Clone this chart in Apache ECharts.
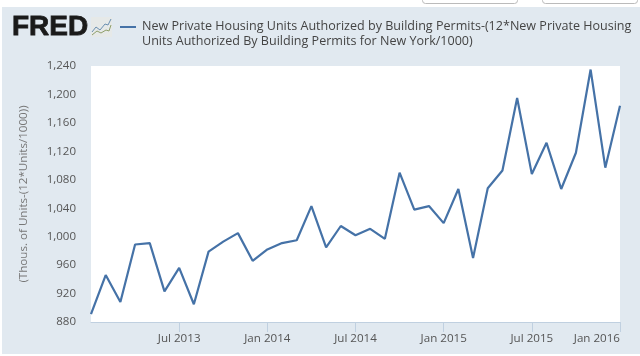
<!DOCTYPE html>
<html>
<head>
<meta charset="utf-8">
<style>
  html, body { margin: 0; padding: 0; background: #fff; }
  #chart { width: 640px; height: 356px; }
</style>
<script src="https://cdn.jsdelivr.net/npm/echarts@6/dist/echarts.min.js"></script>
</head>
<body>
<div id="chart"></div>
<script>
const seriesName = 'New Private Housing Units Authorized by Building Permits-(12*New Private Housing\nUnits Authorized By Building Permits for New York/1000)';
const yAxisName = '(Thous. of Units-(12*Units/1000))';

const months = [
  'Jan 2013', 'Feb 2013', 'Mar 2013', 'Apr 2013', 'May 2013', 'Jun 2013', 'Jul 2013', 'Aug 2013', 'Sep 2013', 'Oct 2013', 'Nov 2013', 'Dec 2013',
  'Jan 2014', 'Feb 2014', 'Mar 2014', 'Apr 2014', 'May 2014', 'Jun 2014', 'Jul 2014', 'Aug 2014', 'Sep 2014', 'Oct 2014', 'Nov 2014', 'Dec 2014',
  'Jan 2015', 'Feb 2015', 'Mar 2015', 'Apr 2015', 'May 2015', 'Jun 2015', 'Jul 2015', 'Aug 2015', 'Sep 2015', 'Oct 2015', 'Nov 2015', 'Dec 2015',
  'Jan 2016'
];
const permits = [
  891, 946, 908, 989, 991, 923, 956, 905, 979, 993, 1005, 966,
  982, 991, 995, 1043, 985, 1015, 1002, 1011, 997, 1090, 1038, 1043,
  1019, 1067, 970, 1068, 1093, 1195, 1088, 1132, 1067, 1118, 1235, 1097,
  1184
];
const tickMonths = ['Jul 2013', 'Jan 2014', 'Jul 2014', 'Jan 2015', 'Jul 2015', 'Jan 2016'];

const fontFamily = '"Open Sans", sans-serif';
const chart = echarts.init(document.getElementById('chart'), null, { renderer: 'canvas' });

chart.setOption({
  animation: false,
  backgroundColor: '#fff',
  textStyle: { fontFamily },
  grid: { left: 91, right: 20, top: 66, bottom: 34, backgroundColor: '#fff', show: true, borderWidth: 0, z: 1 },
  legend: {
    left: 120,
    top: 19,
    padding: 0,
    itemWidth: 16,
    itemHeight: 16,
    itemGap: 0,
    // legend line sits beside the first text line, not centred on both
    icon: 'path://M0 0H16V2H0ZM0 16L0 16Z',
    selectedMode: false,
    textStyle: { fontSize: 12.55, color: '#444', lineHeight: 15, fontFamily, padding: [0, 0, 0, 1] }
  },
  xAxis: {
    type: 'category',
    data: months,
    boundaryGap: false,
    axisLine: { lineStyle: { color: '#c0d0e0', width: 1 } },
    axisTick: {
      length: 10,
      lineStyle: { color: '#c0d0e0' },
      interval: (i, v) => tickMonths.includes(v)
    },
    axisLabel: {
      interval: (i, v) => tickMonths.includes(v),
      color: '#555',
      fontSize: 11.6,
      margin: 11,
      hideOverlap: false,
      formatter: v => v,
      alignMaxLabel: 'right'
    },
    splitLine: { show: false }
  },
  yAxis: {
    type: 'value',
    min: 880,
    max: 1240,
    interval: 40,
    name: yAxisName,
    nameLocation: 'middle',
    nameGap: 61,
    nameTextStyle: { color: '#777', fontSize: 11.6 },
    axisLine: { show: false },
    axisTick: { show: false },
    axisLabel: {
      color: '#555',
      fontSize: 11.5,
      margin: 15,
      padding: [2, 0, 0, 0],
      formatter: v => v.toLocaleString('en-US')
    },
    splitLine: { lineStyle: { color: '#e0e0e6', width: 1 } }
  },
  series: [{
    name: seriesName,
    type: 'line',
    data: permits,
    symbol: 'none',
    lineStyle: { color: '#4572a7', width: 2.2 },
    itemStyle: { color: '#4572a7' },
    z: 5
  }],
  graphic: [
    // panel behind everything, plus the two cut off buttons above it
    { type: 'rect', z: -10, shape: { x: 2, y: 7, width: 638, height: 347 }, style: { fill: '#e1e9f0' } },
    { type: 'rect', z: -10, shape: { x: 422.5, y: -6, width: 95, height: 9.5, r: 3 }, style: { fill: '#fff', stroke: '#bbb' } },
    { type: 'rect', z: -10, shape: { x: 542.5, y: -6, width: 95, height: 9.5, r: 3 }, style: { fill: '#fff', stroke: '#bbb' } },
    // FRED logo
    { type: 'text', z: 10, style: { x: 12, y: 13, text: 'FRED', fill: '#1a1a1a', font: '900 28px "Liberation Sans", sans-serif', stroke: '#1a1a1a', lineWidth: 0.8 } },
    { type: 'rect', z: 10, shape: { x: 91, y: 17, width: 21, height: 20 }, style: { fill: '#e6e9e8' } },
    { type: 'polyline', z: 11, shape: { points: [[92, 32], [96, 27], [100, 30], [105, 24], [108, 25], [111, 19]] }, style: { stroke: '#6a8fb0', fill: null, lineWidth: 1 } },
    { type: 'polyline', z: 11, shape: { points: [[92, 35], [97, 31], [101, 33], [106, 30], [109, 31], [111, 25]] }, style: { stroke: '#8f9f6a', fill: null, lineWidth: 1 } }
  ]
});
</script>
</body>
</html>
